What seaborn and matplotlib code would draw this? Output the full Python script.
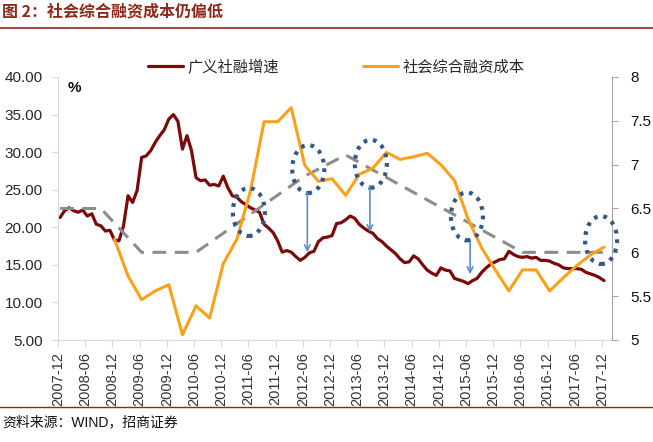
import numpy as np
import pandas as pd
import matplotlib
matplotlib.use("Agg")
import matplotlib.pyplot as plt
import seaborn as sns
from matplotlib.patches import Ellipse
from matplotlib.lines import Line2D
from matplotlib.ticker import FormatStrFormatter, FuncFormatter

# ---------------- data ----------------
tick_labels = ["2007-12", "2008-06", "2008-12", "2009-06", "2009-12", "2010-06", "2010-12",
               "2011-06", "2011-12", "2012-06", "2012-12", "2013-06", "2013-12", "2014-06",
               "2014-12", "2015-06", "2015-12", "2016-06", "2016-12", "2017-06", "2017-12"]

# 广义社融增速 (%), monthly 2007-12 .. 2017-12
tsf_growth = [21.3, 22.2, 22.6, 22.2, 22.0, 22.3, 21.5, 21.8, 20.4, 20.2,
              19.5, 19.6, 18.3, 18.2, 20.2, 24.2, 23.3, 24.9, 29.3, 29.5,
              30.2, 31.3, 32.2, 33.0, 34.4, 35.0, 34.1, 30.4, 32.2, 30.2,
              26.6, 26.2, 26.3, 25.6, 25.7, 25.5, 26.8, 25.3, 24.2, 24.0,
              23.4, 23.0, 22.6, 22.3, 22.0, 20.4, 19.9, 19.3, 18.2, 16.7,
              16.9, 16.7, 16.1, 15.6, 16.0, 16.6, 16.8, 18.1, 18.6, 18.7,
              18.9, 20.5, 20.6, 21.0, 21.5, 21.2, 20.4, 19.9, 19.5, 19.2,
              18.5, 18.1, 17.5, 17.0, 16.5, 15.8, 15.3, 15.4, 16.2, 15.8,
              15.0, 14.3, 13.9, 13.6, 14.6, 14.3, 14.2, 13.2, 13.0, 12.8,
              12.5, 12.9, 13.2, 14.0, 14.6, 15.1, 15.4, 15.7, 15.8, 16.8,
              16.4, 16.1, 16.0, 16.1, 15.9, 16.0, 15.6, 15.6, 15.5, 15.2,
              15.0, 14.6, 14.5, 14.5, 14.5, 14.4, 14.0, 13.8, 13.6, 13.3, 12.9]

# 社会综合融资成本 (%), quarterly 2008-12 .. 2017-12 (month index from 2007-12)
cost_month = list(range(12, 121, 3))
cost_value = [6.15, 5.73, 5.46, 5.56, 5.63, 5.06, 5.39, 5.25, 5.87, 6.15,
              6.70, 7.49, 7.49, 7.65, 6.99, 6.81, 6.84, 6.65, 6.89, 6.96,
              7.14, 7.06, 7.09, 7.13, 7.00, 6.82, 6.38, 6.05, 5.80, 5.56,
              5.80, 5.80, 5.56, 5.71, 5.85, 5.97, 6.06]

# trend (gray dashed) vertices
trend_month = [0, 9, 18, 30, 54, 63, 102, 120]
trend_value = [6.5, 6.5, 6.0, 6.0, 6.87, 7.11, 6.0, 6.0]

# annotation ellipses (month index, right-axis value) and arrows
ell_month = [42.1, 55.2, 69.0, 90.2, 119.8]
ell_value = [6.46, 6.95, 7.01, 6.41, 6.14]
arrow_month = [55.0, 68.8, 90.9]
arrow_from = [6.68, 6.76, 6.11]
arrow_to = [6.00, 6.23, 5.75]

# ---------------- style ----------------
sns.set_style("white")
plt.rcParams["font.family"] = ["Liberation Sans", "Noto Sans CJK SC", "DejaVu Sans"]
CJK = ["Noto Sans CJK SC", "DejaVu Sans"]
MIX = ["Liberation Sans", "Noto Sans CJK SC", "DejaVu Sans"]

W, H = 653, 442
fig = plt.figure(figsize=(W / 100, H / 100), dpi=100)
ax = fig.add_axes([58 / W, 1 - 340 / H, (612 - 58) / W, (340 - 77) / H])
ax2 = ax.twinx()

off = 0.45
df_red = pd.DataFrame({"x": np.arange(len(tsf_growth)) + off, "v": tsf_growth})
df_org = pd.DataFrame({"x": np.array(cost_month) + off, "v": cost_value})
df_gry = pd.DataFrame({"x": np.array(trend_month) + off, "v": trend_value})

sns.lineplot(data=df_red, x="x", y="v", ax=ax, color="#7B0A0A", lw=2.3, legend=False)
sns.lineplot(data=df_gry, x="x", y="v", ax=ax2, color="#8C8C8C", lw=2.2, legend=False,
             dashes=False)
ax2.lines[-1].set_dashes([4.5, 2.8])
sns.lineplot(data=df_org, x="x", y="v", ax=ax2, color="#F9A11B", lw=2.2, legend=False)

ax.set_xlim(0, 122.2)
ax.set_ylim(5, 40)
ax2.set_ylim(5, 8)
ax.set_xticks(np.arange(0, 121, 6))
ax.set_xticklabels(tick_labels, rotation=90)
ax.set_yticks(np.arange(5, 41, 5))
ax.yaxis.set_major_formatter(FormatStrFormatter("%.2f"))
ax2.set_yticks(np.arange(5, 8.01, 0.5))
ax2.yaxis.set_major_formatter(FuncFormatter(lambda v, p: f"{v:g}"))
ax.set_xlabel("")
ax.set_ylabel("")
ax2.set_ylabel("")

for s in ["top", "right"]:
    ax.spines[s].set_visible(False)
for s in ["top", "left", "bottom"]:
    ax2.spines[s].set_visible(False)
ax.spines["left"].set_color("#d9d9d9")
ax.spines["bottom"].set_color("#d9d9d9")
ax2.spines["right"].set_color("#a6a6a6")

ax.tick_params(axis="y", left=True, length=4, color="#d9d9d9", labelsize=11,
               labelcolor="#262626", pad=7)
ax.tick_params(axis="x", bottom=True, length=5, color="#d9d9d9", labelsize=10.5,
               labelcolor="#333333", pad=4)
ax2.tick_params(axis="y", right=True, length=4, color="#a6a6a6", labelsize=11,
                labelcolor="#111111", pad=9)

# annotations
for m, v in zip(ell_month, ell_value):
    ax2.add_patch(Ellipse((m, v), width=7.06, height=0.547, fill=False,
                          edgecolor="#34578a", lw=3.0, linestyle=(0, (0.9, 1.4)),
                          zorder=5, clip_on=False))
for m, a, b in zip(arrow_month, arrow_from, arrow_to):
    ax2.annotate("", xy=(m, b), xytext=(m, a),
                 arrowprops=dict(arrowstyle="->", color="#5a8ccc", lw=1.2,
                                 shrinkA=0, shrinkB=0, mutation_scale=10), zorder=5)

ax.text(0.029, 0.958, "%", transform=ax.transAxes, fontsize=11, fontweight="bold",
        ha="center", va="center", color="#111111")

handles = [Line2D([], [], color="#7B0A0A", lw=2.3), Line2D([], [], color="#F9A11B", lw=2.2)]
fig.legend(handles, ["广义社融增速", "社会综合融资成本"], loc="center",
           bbox_to_anchor=(0.515, 1 - 67 / H), ncol=2, frameon=False,
           prop={"family": CJK, "size": 11}, handlelength=2.3, handletextpad=0.3,
           columnspacing=5.5)

fig.text(0.003, 1 - 11 / H, "图 2：社会综合融资成本仍偏低", color="#8B2A1A", fontsize=11.5,
         family=CJK, va="center", ha="left", fontweight="bold")
fig.add_artist(Line2D([0, 1], [1 - 28 / H] * 2, color="#9B2020", lw=1.2,
                      transform=fig.transFigure))
fig.add_artist(Line2D([0, 1], [1 - 407 / H] * 2, color="#9B2020", lw=1.0,
                      transform=fig.transFigure))
fig.text(0.003, 1 - 422 / H, "资料来源：WIND，招商证券", color="#111111", fontsize=10,
         family=MIX, va="center", ha="left")

fig.savefig("out.png", dpi=100)
